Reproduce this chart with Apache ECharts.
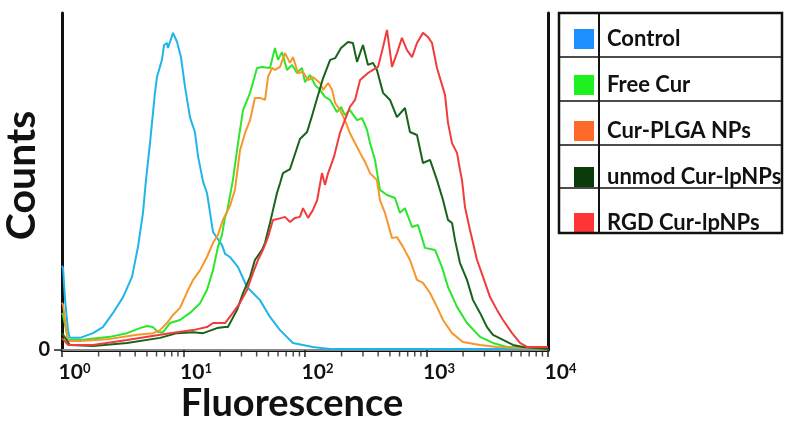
<!DOCTYPE html>
<html><head><meta charset="utf-8">
<script src="https://cdn.jsdelivr.net/npm/echarts@6/dist/echarts.min.js"></script>
<style>html,body{margin:0;padding:0;background:#fff}#c{width:791px;height:430px}</style>
</head><body><div id="c"></div>
<script>
const seriesNames = ['Control', 'Free Cur', 'Cur-PLGA NPs', 'unmod Cur-lpNPs', 'RGD Cur-lpNPs'];
const lineColors = ['#1FB5E8', '#2BE62B', '#F7962B', '#17631A', '#F03C3C'];
const legendColors = ['#1E8FFF', '#1FF01F', '#FF6A2A', '#0B3A0B', '#FF3535'];
const xMajorTicks = [1, 10, 100, 1000, 10000];
const xMinorTicks = [2,3,4,5,6,7,8,9, 20,30,40,50,60,70,80,90, 200,300,400,500,600,700,800,900, 2000,3000,4000,5000,6000,7000,8000,9000];
const yTickValues = [0];

const control = [[1.0,25],[1.02,24.3],[1.06,14.8],[1.12,5.9],[1.16,3.6],[1.41,3.6],[1.80,5.0],[2.17,6.8],[2.63,11.0],[3.18,15.7],[3.77,21.7],[4.22,30.6],[4.64,40.7],[4.91,50.4],[5.30,61.4],[5.82,76.3],[6.05,81.0],[6.65,86.1],[6.91,90.5],[7.32,91.1],[7.45,89.6],[8.20,94.1],[8.85,91.4],[9.53,86.9],[10.3,78.0],[11.3,69.1],[12.4,64.7],[13.2,57.3],[14.5,49.9],[15.6,46.6],[17.5,35.0],[20.7,31.2],[22.0,28.5],[24.1,27.6],[28.1,24.6],[33.3,18.7],[37.3,16.9],[42.6,14.8],[51.5,9.8],[62.3,5.9],[79.6,2.1],[116,0.9],[161,0.3],[10000,0.3]];
const freeCur = [[1.0,11],[1.02,10.4],[1.12,3.0],[1.41,3.0],[2.48,3.9],[3.43,5.0],[4.38,6.5],[5.01,7.1],[5.61,6.8],[6.17,5.3],[6.78,5.3],[7.74,8.0],[9.36,8.9],[11.3,11.0],[13.7,13.9],[15.6,17.8],[17.5,23.7],[19.2,30.6],[20.7,34.0],[22.0,39.5],[22.8,41.0],[25.5,50.4],[28.1,61.4],[30.9,71.2],[35.3,76.3],[40.3,83.7],[44.3,84.0],[51.5,83.7],[56.6,89.6],[59.9,86.1],[64.7,88.4],[71.1,83.1],[78.2,84.6],[85.9,82.2],[94.4,83.7],[100,79.5],[110,81.6],[121,78.6],[133,77.2],[146,75.1],[161,74.2],[183,70.6],[198,72.1],[213,69.7],[234,71.2],[268,68.2],[295,68.8],[324,65.3],[343,61.4],[377,56.4],[414,47.5],[473,46.0],[550,45.1],[605,40.7],[665,42.1],[760,36.5],[851,37.1],[972,30.3],[1175,29.7],[1342,24.6],[1503,18.7],[1783,12.8],[2154,8.0],[2757,3.9],[3525,2.1],[4603,0.9],[5884,0.9],[10000,0.3]];
const plga = [[1.0,14],[1.02,13.4],[1.12,2.7],[1.41,2.7],[2.48,3.3],[4.14,4.5],[5.61,5.0],[6.41,5.9],[7.32,8.0],[8.20,10.4],[9.36,12.5],[10.7,17.2],[12.0,20.8],[13.7,23.7],[15.6,27.6],[17.5,31.8],[19.2,34.1],[21.1,38.6],[24.1,42.7],[26.5,47.5],[29.2,59.3],[32.1,64.4],[35.3,68.2],[38.7,74.8],[42.6,74.8],[46.9,74.2],[49.6,81.0],[53.5,83.7],[56.6,83.1],[62.3,84.0],[68.4,88.1],[75.3,85.2],[79.6,86.9],[87.5,82.2],[96.3,82.5],[106,80.1],[116,81.0],[133,79.2],[141,77.2],[155,79.2],[167,77.2],[177,73.3],[194,71.2],[213,68.2],[234,64.4],[258,61.4],[284,58.5],[312,55.8],[343,52.5],[391,50.4],[414,44.5],[455,40.7],[520,33.2],[571,33.5],[641,30.6],[731,26.7],[835,20.8],[935,19.9],[1069,16.9],[1220,12.8],[1367,8.9],[1622,5.0],[1996,2.4],[2757,1.5],[3802,0.9],[10000,0.3]];
const unmod = [[1.0,5],[1.02,4.5],[1.16,1.5],[1.80,1.2],[3.43,2.1],[6.41,3.6],[8.85,5.0],[12.0,5.3],[14.5,5.0],[18.9,6.5],[22.0,6.8],[23.2,6.8],[27.6,11.9],[30.9,16.9],[35.3,21.7],[38.7,26.7],[44.3,29.7],[46.9,31.8],[51.5,37.7],[54.5,41.5],[58.8,46.6],[62.3,49.5],[65.9,52.5],[75.3,53.7],[90.9,62.6],[104,64.7],[116,70.3],[126,74.8],[141,80.7],[161,86.1],[177,86.6],[198,89.6],[226,91.4],[248,91.1],[268,85.5],[300,90.5],[330,84.6],[363,85.2],[391,83.1],[439,76.3],[501,74.2],[571,69.1],[665,71.8],[731,64.7],[835,63.8],[935,55.5],[1069,56.4],[1220,50.4],[1367,44.5],[1503,38.6],[1622,37.7],[1717,32.6],[1887,25.8],[2154,20.8],[2415,14.8],[2757,11.0],[3148,6.8],[3525,4.5],[4263,3.0],[5154,1.5],[6226,0.9],[10000,0.3]];
const rgd = [[1.0,3.5],[1.02,3.0],[1.12,1.5],[1.80,1.5],[3.43,3.0],[6.41,4.5],[8.85,5.3],[12.0,5.9],[15.6,6.8],[17.5,8.0],[22.0,8.0],[22.8,8.0],[25.5,11.0],[29.2,14.0],[33.3,17.8],[37.3,22.8],[41.0,26.7],[45.1,29.7],[49.6,33.5],[54.5,38.6],[64.7,39.2],[68.4,39.5],[75.3,38.0],[82.7,39.2],[90.9,39.5],[96.3,42.1],[106,39.2],[116,41.5],[126,44.5],[138,52.5],[146,49.0],[155,52.5],[173,57.3],[194,64.4],[234,72.1],[258,74.2],[284,80.1],[330,82.2],[363,83.1],[399,84.0],[439,89.9],[473,95.0],[520,84.0],[571,88.1],[628,92.6],[691,89.0],[760,86.9],[835,91.1],[935,94.1],[1028,92.9],[1110,91.1],[1220,83.7],[1420,75.7],[1503,67.4],[1622,61.4],[1783,58.5],[1887,53.4],[1960,50.4],[2074,42.4],[2280,35.6],[2605,26.7],[2919,21.7],[3334,15.7],[3802,11.9],[4263,8.9],[5058,5.0],[5884,2.1],[6716,0.9],[10000,0.9]];

const allData = [control, freeCur, plga, unmod, rgd];
const FONT = 'Lato';

const chart = echarts.init(document.getElementById('c'), null, {renderer: 'canvas'});

const lineSeries = seriesNames.map((name, i) => ({
  name: name,
  type: 'line',
  xAxisIndex: 0,
  yAxisIndex: 0,
  data: allData[i],
  symbol: 'none',
  smooth: false,
  lineStyle: {color: lineColors[i], width: 2},
  itemStyle: {color: lineColors[i]},
  emphasis: {disabled: true},
  z: 3
}));

const minorTickSeries = {
  name: 'minorTicks',
  type: 'scatter',
  xAxisIndex: 0,
  yAxisIndex: 0,
  data: xMinorTicks.map(v => [v, 0]),
  symbol: 'rect',
  symbolSize: [1.5, 5],
  symbolOffset: [0, 4],
  itemStyle: {color: '#222'},
  clip: false,
  silent: true,
  z: 4
};

const option = {
  backgroundColor: '#ffffff',
  animation: false,
  grid: {left: 62, right: 243, top: 13, bottom: 80, containLabel: false, outerBoundsMode: 'none'},
  legend: {
    orient: 'vertical',
    left: 569,
    top: 23,
    itemWidth: 20,
    itemHeight: 20,
    itemGap: 24,
    icon: 'rect',
    selectedMode: false,
    data: seriesNames.map((n, i) => ({name: n, icon: 'rect', itemStyle: {color: legendColors[i]}})),
    textStyle: {fontFamily: FONT, fontWeight: 'bold', fontSize: 22, color: '#111', padding: [0, 0, 0, 8]}
  },
  xAxis: [{
    type: 'log',
    logBase: 10,
    min: 1,
    max: 10000,
    position: 'bottom',
    name: 'Fluorescence',
    nameLocation: 'middle',
    nameGap: 35,
    nameMoveOverlap: false,
    nameTextStyle: {fontFamily: FONT, fontWeight: 'bold', fontSize: 38, color: '#111', padding: [0, 26, 0, 0]},
    axisLine: {show: true, lineStyle: {color: '#111', width: 3}},
    axisTick: {show: true, length: 7, lineStyle: {color: '#222', width: 1.5}},
    splitLine: {show: false},
    minorTick: {show: false},
    axisLabel: {
      margin: 12,
      formatter: function (v) {
        const e = Math.round(Math.log10(v));
        return '{b|10}{s|' + e + '}';
      },
      padding: [0, 0, 0, 25],
      rich: {
        b: {fontFamily: FONT, fontWeight: 'bold', fontSize: 21, color: '#111'},
        s: {fontFamily: FONT, fontWeight: 'bold', fontSize: 13, color: '#111', verticalAlign: 'top'}
      }
    }
  }, {
    type: 'log',
    logBase: 10,
    min: 1,
    max: 10000,
    position: 'top',
    axisLine: {show: true, lineStyle: {color: '#888', width: 2}},
    axisTick: {show: false},
    axisLabel: {show: false},
    splitLine: {show: false}
  }],
  yAxis: [{
    type: 'value',
    min: 0,
    max: 100,
    position: 'left',
    name: 'Counts',
    nameLocation: 'middle',
    nameGap: 20,
    nameMoveOverlap: false,
    nameTextStyle: {fontFamily: FONT, fontWeight: 'bold', fontSize: 41, color: '#111', padding: [0, 0, 0, 12]},
    axisLine: {show: true, lineStyle: {color: '#111', width: 3}},
    axisTick: {show: true, length: 8, customValues: yTickValues, lineStyle: {color: '#222', width: 1.5}},
    splitLine: {show: false},
    axisLabel: {show: true, customValues: yTickValues, margin: 12, fontFamily: FONT, fontWeight: 'bold', fontSize: 20, color: '#111'}
  }, {
    type: 'value',
    min: 0,
    max: 100,
    position: 'right',
    axisLine: {show: true, lineStyle: {color: '#111', width: 3}},
    axisTick: {show: false},
    axisLabel: {show: false},
    splitLine: {show: false}
  }],
  series: lineSeries.concat([minorTickSeries]),
  graphic: [
    {type: 'rect', shape: {x: 559, y: 13, width: 223, height: 220}, style: {fill: 'none', stroke: '#111', lineWidth: 2.5}, z: 10},
    {type: 'line', shape: {x1: 599, y1: 13, x2: 599, y2: 233}, style: {stroke: '#111', lineWidth: 2}, z: 10},
    {type: 'line', shape: {x1: 559, y1: 57, x2: 782, y2: 57}, style: {stroke: '#111', lineWidth: 1.5}, z: 10},
    {type: 'line', shape: {x1: 559, y1: 101, x2: 782, y2: 101}, style: {stroke: '#111', lineWidth: 1.5}, z: 10},
    {type: 'line', shape: {x1: 559, y1: 145, x2: 782, y2: 145}, style: {stroke: '#111', lineWidth: 1.5}, z: 10},
    {type: 'line', shape: {x1: 559, y1: 188, x2: 782, y2: 188}, style: {stroke: '#111', lineWidth: 1.5}, z: 10}
  ]
};
chart.setOption(option);
</script>
</body></html>
